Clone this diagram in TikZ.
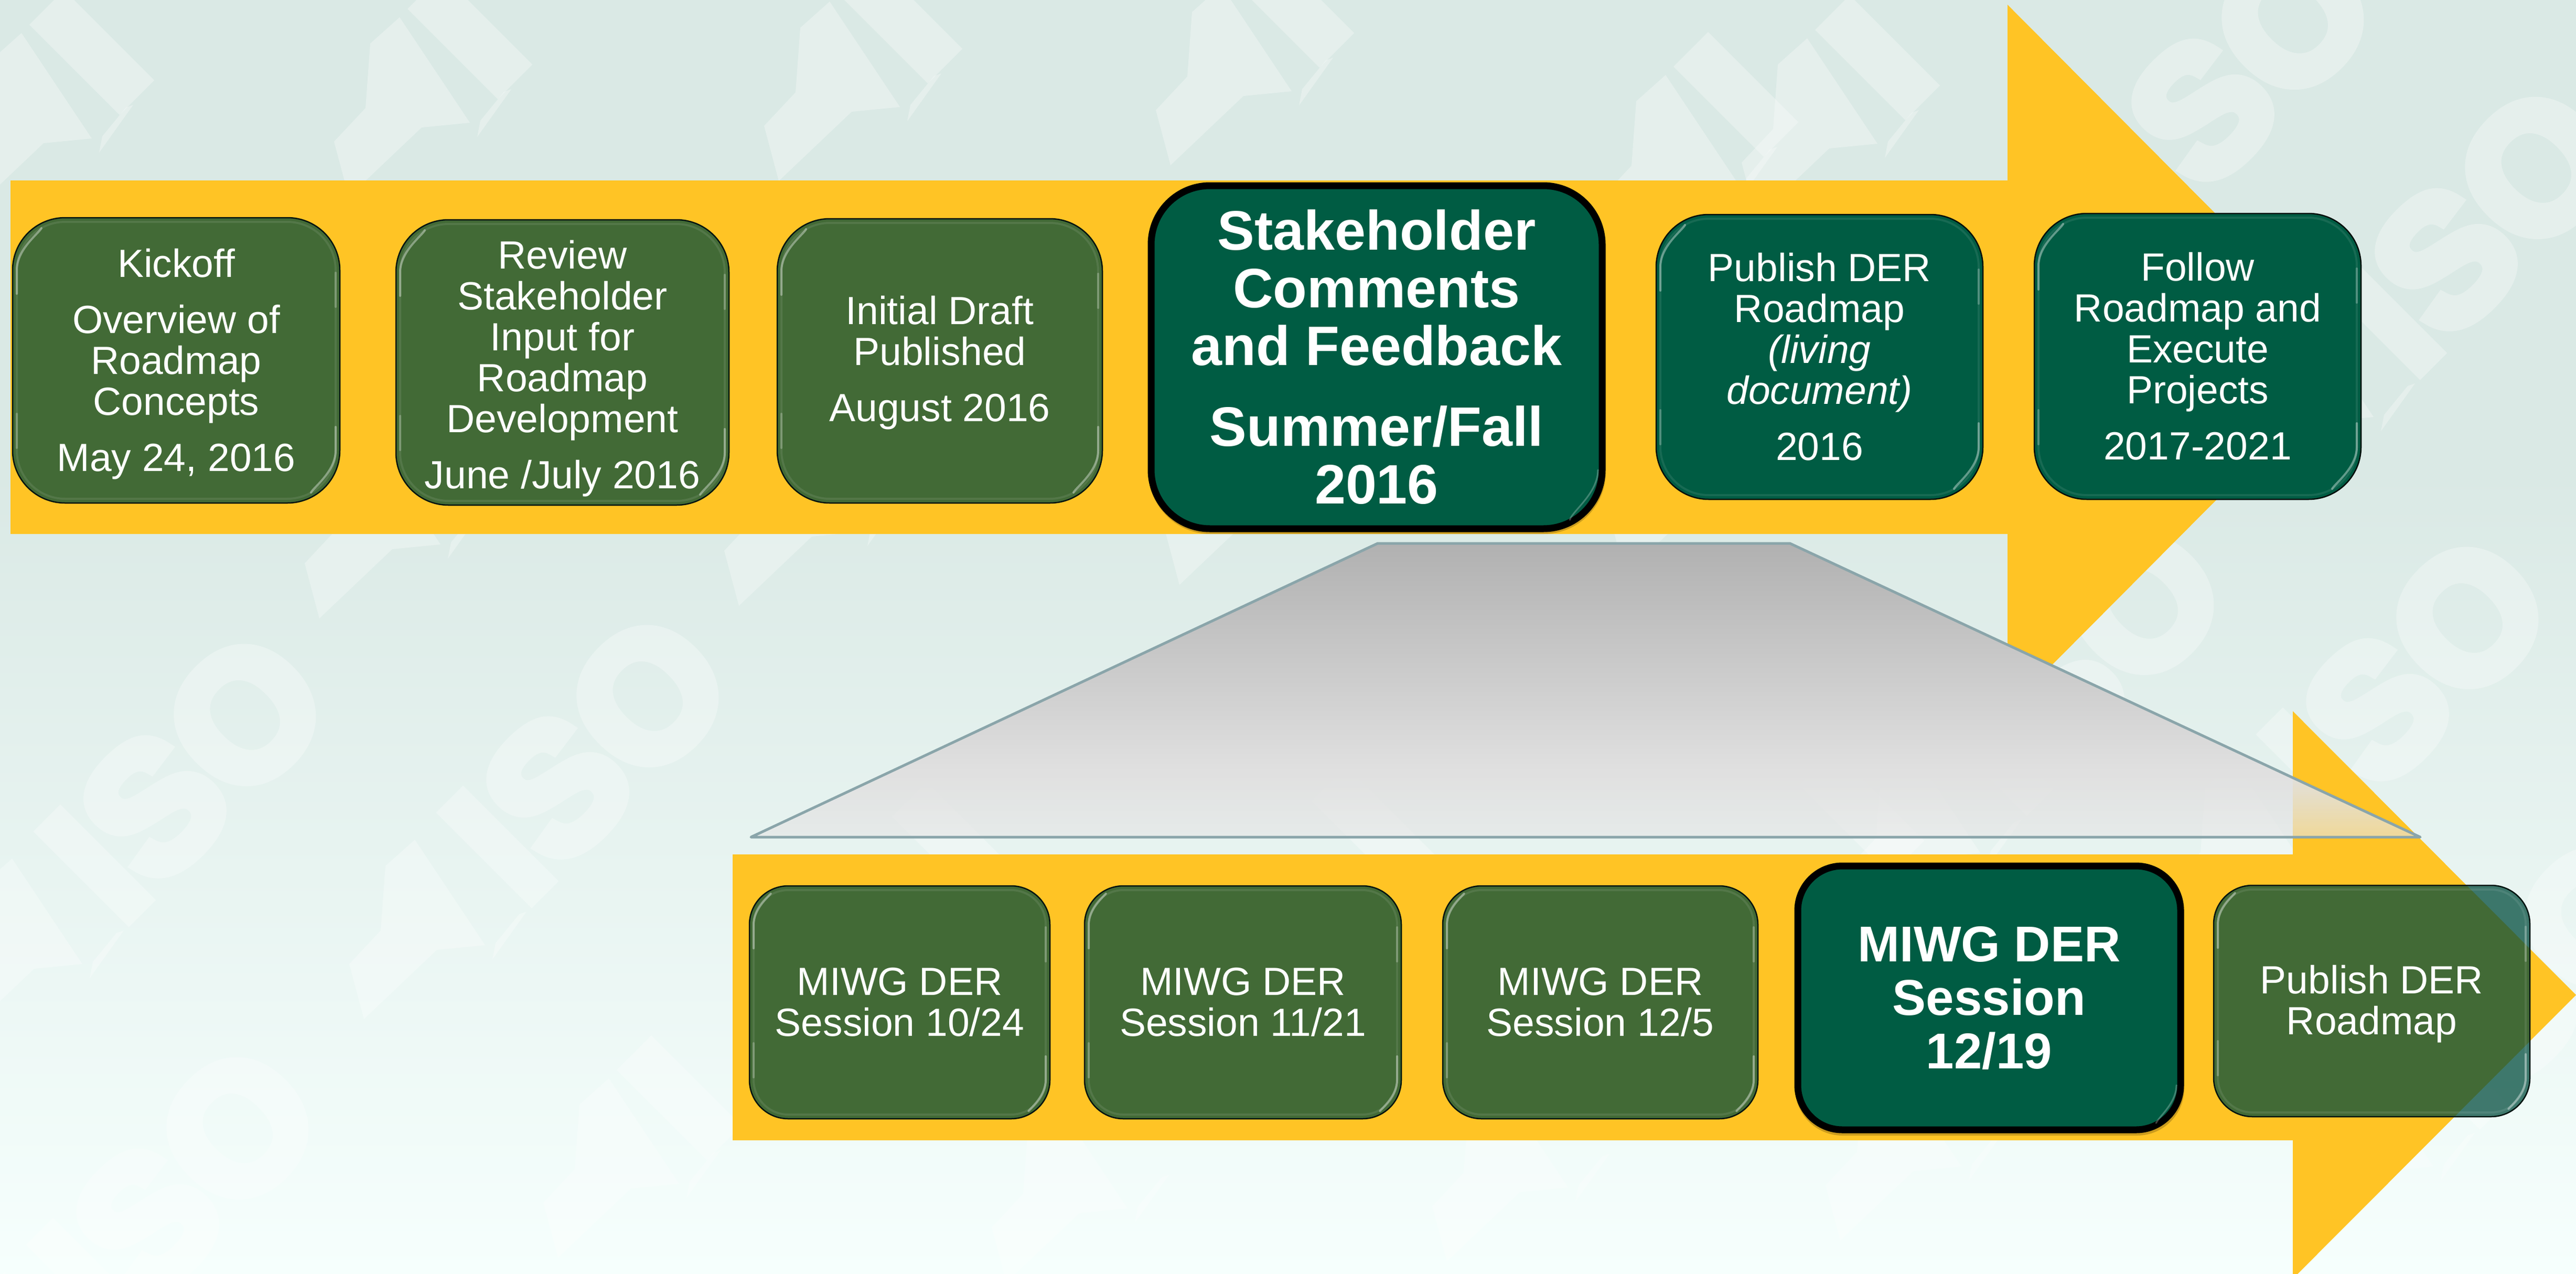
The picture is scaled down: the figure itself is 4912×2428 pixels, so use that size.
\documentclass[tikz,border=0pt]{standalone}
\usepackage{fontspec}
\setmainfont{Liberation Sans}
\newfontface\wmfont[FakeBold=7]{Liberation Sans Bold}
\definecolor{bgtop}{HTML}{DAE9E5}
\definecolor{bgbot}{HTML}{F6FFFD}
\definecolor{arrowyel}{HTML}{FFC425}
\definecolor{teal}{HTML}{005C43}
\definecolor{tealglass}{HTML}{004B3C}
\definecolor{trapline}{HTML}{8AA5AA}
\definecolor{trapa}{HTML}{B0B0B0}
\definecolor{trapb}{HTML}{E0E0E0}
\definecolor{trapc}{HTML}{E6E6E6}
\tikzset{
  wmtext/.style={text=white,rotate=45,inner sep=0pt,font=\fontsize{340}{340}\wmfont},
  wmshape/.style={fill=white,opacity=.3},
  bigarrow/.style={fill=arrowyel,draw=none},
  basebox/.style={inner sep=0pt,outer sep=0pt,text=white,align=center,text opacity=1},
  smalltext/.style={font=\fontsize{75}{78}\selectfont},
  glassbox/.style={basebox,smalltext,fill=tealglass,fill opacity=.74,draw=black!75!tealglass,line width=2.5pt},
  solidbox/.style={basebox,smalltext,fill=teal,draw=black!85!teal,line width=2.5pt},
  thickbox/.style={basebox,fill=teal,draw=black,line width=13pt},
  ring/.style={draw=white,line width=4pt,opacity=.09},
  glint/.style={draw=white,line width=4pt,opacity=.38,line cap=round},
}
% watermark shapes without letters, position of the O
\newcommand\wmshapes[2]{%
  \fill[wmshape,shift={(#1,#2)}] (-444,273) -- (-500,323) -- (-509,446) -- (-569,510) -- (-541,615) -- (-402,483) -- (-310,474) -- cycle;
  \fill[wmshape,shift={(#1,#2)}] (-231,410) -- (-296,501) -- (-290,470) -- (-245,415) -- cycle;
}
\newcommand\wmstem[2]{%
  \fill[wmshape,shift={(#1,#2)}] (-363,191) -- (-191,363) -- (-257,429) -- (-429,257) -- cycle;
}
\newcommand\wmark[2]{%
  \begin{scope}[transparency group,opacity=.3]
  \node[wmtext] at ({#1-113},{#2+113}) {ISO};
  \end{scope}
  \wmshapes{#1}{#2}
}
% lowers the text of a box: a strut of the given height in its first line
\newcommand\dn[1]{\rule{0pt}{#1pt}}
% rounded box with bevel: style, name, x1, y1, x2, y2, r, text
\newcommand\tbox[8]{%
  \node[#1,rounded corners=#7pt,minimum width={(#5-#3)*1pt},minimum height={(#6-#4)*1pt}] (#2) at ({(#3+#5)/2},{(#4+#6)/2}) {#8};
  \draw[ring,rounded corners={(#7-8)*1pt}] ({#3+8},{#4+8}) rectangle ({#5-8},{#6-8});
  \draw[glint] ({#3+8},{#4+#7+45}) -- ({#3+8},{#4+#7}) .. controls ({#3+8},{#4+#7*.6}) and ({#3+#7*.6-10},{#4+#7*.3}) .. ({#3+#7*.55},{#4+#7*.2});
  \draw[glint] ({#5-8},{#6-#7-45}) -- ({#5-8},{#6-#7}) .. controls ({#5-8},{#6-#7*.6}) and ({#5-#7*.6+10},{#6-#7*.3}) .. ({#5-#7*.55},{#6-#7*.2});
  \draw[glint,opacity=.25] ({#5-8},{#4+#7+5}) -- ({#5-8},{#4+#7+70});
  \draw[glint,opacity=.25] ({#3+8},{#6-#7-5}) -- ({#3+8},{#6-#7-70});
}
% thick outlined box: only a faint glint in the lower right corner
\newcommand\kbox[8]{%
  \node[#1,rounded corners=#7pt,minimum width={(#5-#3)*1pt},minimum height={(#6-#4)*1pt}] (#2) at ({(#3+#5)/2},{(#4+#6)/2}) {#8};
  \draw[glint,opacity=.25,line width=3pt] ({#5-8},{#6-#7}) .. controls ({#5-8},{#6-#7*.6}) and ({#5-#7*.6+10},{#6-#7*.3}) .. ({#5-#7*.55},{#6-#7*.15});
}
\begin{document}
\begin{tikzpicture}[x=1pt,y=-1pt]
\useasboundingbox (0,0) rectangle (4912,2428);
% background
\fill[bgtop] (0,0) rectangle (4912,901);
\fill[top color=bgtop,bottom color=bgbot] (0,900) rectangle (4912,2428);
\begin{scope}
\clip (0,0) rectangle (4912,2428);
\wmshapes{485}{-210}\wmshapes{1206}{-240}\wmshapes{2026}{-270}\wmshapes{2773}{-300}\wmshapes{3620}{-130}\wmshapes{3890}{-200}
\wmstem{485}{-210}\wmstem{1206}{-240}\wmstem{2026}{-270}\wmstem{2773}{-300}\wmstem{3620}{-130}\wmstem{3890}{-200}
\wmshapes{1150}{564}\wmshapes{1950}{540}\wmshapes{2790}{500}\wmshapes{3640}{480}
\wmark{467}{1364}\wmark{1235}{1328}\wmark{4086}{1152}
\wmstem{2130}{1300}\wmstem{2930}{1270}\wmstem{3860}{1240}
\wmark{453}{2152}
\wmshapes{1605}{1783}\wmstem{1605}{1783}\wmshapes{2460}{1830}\wmshapes{3300}{1790}\wmshapes{4050}{1750}
\wmark{4372}{36}\wmark{4836}{321}\wmark{4705}{1179}\wmark{4950}{1750}
\end{scope}
% arrows
\fill[bigarrow] (20,344) -- (3828,344) -- (3828,9) -- (4497,681) -- (3828,1353) -- (3828,1018) -- (20,1018) -- cycle;
\fill[bigarrow] (1397,1629) -- (4372,1629) -- (4372,1356) -- (4912,1897) -- (4372,2438) -- (4372,2174) -- (1397,2174) -- cycle;
% zoom trapezoid: opaque gradient above, thinning out towards its base
\begin{scope}
\clip (2627,1036) -- (3413,1036) -- (4615,1596) -- (1432,1596) -- cycle;
\fill[top color=trapa,bottom color=trapb] (1400,1030) rectangle (4700,1470);
\foreach \yy in {1470,1474,...,1594}{
  \pgfmathsetmacro\mixv{(1596-\yy)/126*100}
  \pgfmathsetmacro\alphav{1-(\yy-1470)/126*.4}
  \fill[trapb!\mixv!trapc,opacity=\alphav] (1400,\yy) rectangle (4700,\yy+4);
}
\end{scope}
\draw[trapline,line width=5pt,line join=round] (2627,1036) -- (3413,1036) -- (4615,1596) -- (1432,1596) -- cycle;
% top row
\tbox{glassbox}{a1}{24}{415}{648}{959}{100}{\dn{68}Kickoff\\[29pt]Overview of\\Roadmap\\Concepts\\[29pt]May 24, 2016}
\tbox{glassbox}{a2}{755}{419}{1390}{963}{100}{\dn{78}Review\\Stakeholder\\Input for\\Roadmap\\Development\\[29pt]June /July 2016}
\tbox{glassbox}{a3}{1482}{417}{2102}{959}{100}{\dn{62}Initial Draft\\Published\\[29pt]August 2016}
\fill[black,opacity=.2,rounded corners=118pt] (2190,352) rectangle (3062,1018);
\kbox{thickbox,font=\fontsize{106}{110}\selectfont\bfseries}{a4}{2195}{354}{3055}{1008}{112}{Stakeholder\\Comments\\and Feedback\\[44pt]Summer/Fall\\2016}
\tbox{solidbox}{a5}{3158}{409}{3781}{952}{100}{Publish DER\\Roadmap\\\textit{(living}\\\textit{document)}\\[29pt]2016}
\tbox{solidbox}{a6}{3879}{407}{4502}{952}{100}{Follow\\Roadmap and\\Execute\\Projects\\[29pt]2017-2021}
% bottom row
\tbox{glassbox}{b1}{1429}{1689}{2002}{2133}{74}{MIWG DER\\Session 10/24}
\tbox{glassbox}{b2}{2068}{1689}{2672}{2133}{74}{MIWG DER\\Session 11/21}
\tbox{glassbox}{b3}{2751}{1689}{3352}{2133}{74}{MIWG DER\\Session 12/5}
\fill[black,opacity=.2,rounded corners=90pt] (3423,1650) rectangle (4165,2165);
\kbox{thickbox,font=\fontsize{96}{102}\selectfont\bfseries}{b4}{3428}{1651}{4158}{2154}{85}{MIWG DER\\Session\\12/19}
\tbox{glassbox}{b5}{4221}{1688}{4824}{2129}{74}{\dn{66}Publish DER\\Roadmap}
\end{tikzpicture}
\end{document}
